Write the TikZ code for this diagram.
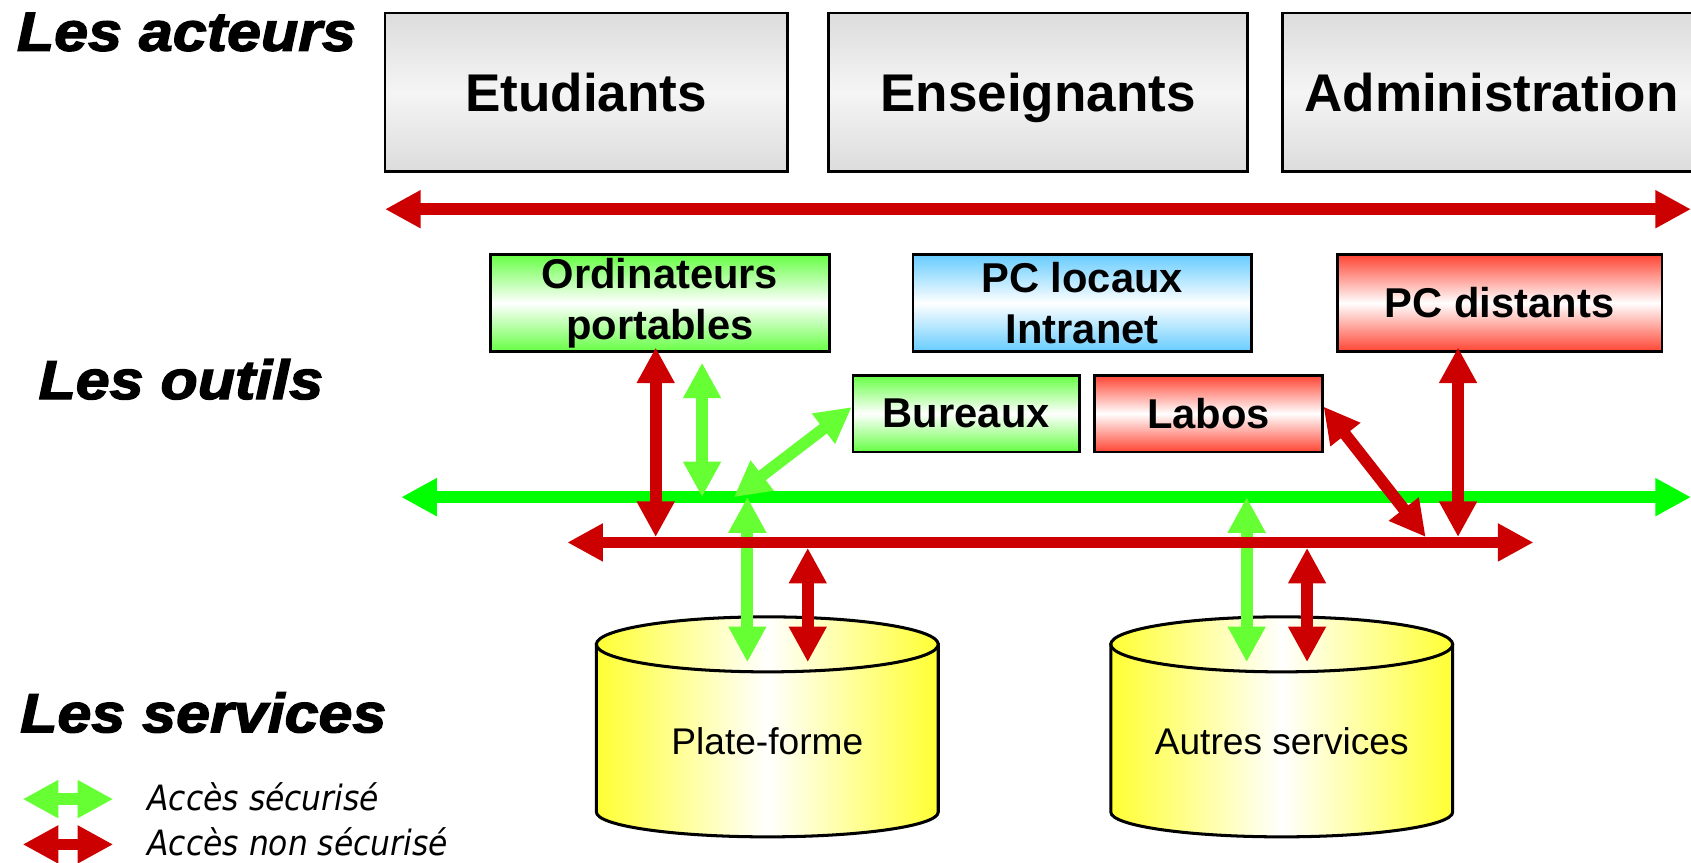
\documentclass[tikz,border=0pt]{standalone}
\usepackage{fontspec}
\setmainfont{Liberation Sans}
\newfontfamily\headfont{Liberation Sans}[FakeBold=2.5,FakeStretch=1.11]
\newfontfamily\legfont{DejaVu Sans Condensed}
\usetikzlibrary{arrows.meta}
\definecolor{accred}{HTML}{CC0000}
\definecolor{busgreen}{HTML}{00FF00}
\definecolor{accgreen}{HTML}{66FF33}
\definecolor{boxgray}{HTML}{DCDCDC}
\definecolor{boxgreen}{HTML}{66FF44}
\definecolor{boxblue}{HTML}{66CCFF}
\definecolor{boxred}{HTML}{FF4433}
\definecolor{cylyellow}{HTML}{FFFF33}

\begin{document}
\begin{tikzpicture}[x=0.1mm,y=-0.1mm,
	acc/.tip={Triangle[length=9.4pt,width=9.4pt]},
	link/.style={line width=3.1pt,acc-acc},
	red link/.style={link,accred},
	green link/.style={link,accgreen},
	titre/.style={anchor=base west,inner sep=0pt,font=\headfont\bfseries\itshape\fontsize{14.5}{16}\selectfont},
	acteur/.style={draw,line width=0.7pt,top color=boxgray,bottom color=boxgray,middle color=white!96!black,
		minimum height=14.7mm,inner sep=0pt,text height=10.4pt,text depth=0pt,font=\bfseries\fontsize{14}{16}\selectfont},
	outil/.style={draw,line width=0.7pt,top color=#1,bottom color=#1,middle color=white,
		minimum height=9mm,inner sep=0pt,align=center,font=\bfseries\fontsize{11}{13.4}\selectfont},
	cyl/.style={draw,line width=0.8pt,left color=cylyellow,right color=cylyellow,middle color=white},
	legtxt/.style={anchor=base west,inner sep=0pt,font=\legfont\itshape\fontsize{9.2}{10}\selectfont}]
	\useasboundingbox (0,0) rectangle (1568,800);
	\clip (0,0) rectangle (1568,800);

	\node[titre] (t-acteurs) at (15,47) {Les acteurs};
	\node[titre] (t-outils) at (35,370) {Les outils};
	\node[titre] (t-services) at (18,679) {Les services};

	\node[acteur,minimum width=37.3mm] (etud) at (543.5,85.5) {Etudiants};
	\node[acteur,minimum width=38.9mm] (ens) at (962.5,85.5) {Enseignants};
	\node[acteur,minimum width=38.8mm] (admin) at (1383,85.5) {Administration};

	\node[outil=boxgreen,minimum width=31.4mm] (ordi) at (612,281) {Ordinateurs\\portables};
	\node[outil=boxblue,minimum width=31.4mm] (pcloc) at (1003.5,281) {PC locaux\\Intranet};
	\node[outil=boxred,minimum width=30.1mm] (pcdist) at (1390.5,281) {PC distants};
	\node[outil=boxgreen,minimum width=21mm,minimum height=7.1mm] (bureaux) at (896,383.5) {Bureaux};
	\node[outil=boxred,minimum width=21.1mm,minimum height=7.1mm] (labos) at (1120.5,383.5) {Labos};

	\foreach \cx/\nom/\txt in {711.5/plateforme/Plate-forme,1188.5/autres/Autres services}{
		\path[cyl] (\cx-158.5,597.5) -- (\cx-158.5,753) arc[start angle=180,end angle=0,x radius=158.5,y radius=23]
			-- (\cx+158.5,597.5) -- cycle;
		\path[cyl] (\cx,597.5) ellipse[x radius=158.5,y radius=25.5];
		\node[font=\fontsize{9.8}{12}\selectfont] (\nom) at (\cx,687) {\txt};
	}

	\coordinate (haut-w) at (357,194); \coordinate (haut-e) at (1568,194);
	\coordinate (vert-w) at (372,461); \coordinate (vert-e) at (1568,461);
	\coordinate (rouge-w) at (526,503); \coordinate (rouge-e) at (1422,503);
	\coordinate (g-bur) at (680.5,461); \coordinate (r-lab) at (1322,498);
	\coordinate (pf-g) at (693,614); \coordinate (pf-r) at (749,614);
	\coordinate (as-g) at (1156,614); \coordinate (as-r) at (1212,614);
	\coordinate (leg-gw) at (21,741); \coordinate (leg-ge) at (105,741);
	\coordinate (leg-rw) at (21,783); \coordinate (leg-re) at (105,783);

	\draw[red link] (haut-w) -- (haut-e);
	\draw[link,busgreen] (vert-w) -- (vert-e);
	\draw[green link] ([xshift=3.9mm,yshift=-0.9mm]ordi.south) -- ([xshift=3.9mm]ordi.south |- vert-w);
	\draw[green link] (g-bur) -- ([yshift=0.6mm]bureaux.west);
	\draw[green link] (pf-g |- vert-w) -- (pf-g);
	\draw[green link] (as-g |- vert-w) -- (as-g);
	\draw[red link] (rouge-w) -- (rouge-e);
	\draw[red link] ([xshift=-0.4mm,yshift=0.5mm]ordi.south) -- ([xshift=-0.4mm,yshift=0.5mm]ordi.south |- rouge-w);
	\draw[red link] ([yshift=-0.5mm]pf-r |- rouge-w) -- (pf-r);
	\draw[red link] ([yshift=-0.5mm]as-r |- rouge-w) -- (as-r);
	\draw[red link] ([yshift=0.65mm]labos.east) -- (r-lab);
	\draw[red link] ([xshift=-3.85mm,yshift=0.5mm]pcdist.south) -- ([xshift=-3.85mm,yshift=0.5mm]pcdist.south |- rouge-w);

	\draw[green link] (leg-gw) -- (leg-ge);
	\draw[red link] (leg-rw) -- (leg-re);
	\node[legtxt] (leg-sec) at (136,752) {Accès sécurisé};
	\node[legtxt] (leg-nonsec) at (136,793) {Accès non sécurisé};
\end{tikzpicture}
\end{document}
